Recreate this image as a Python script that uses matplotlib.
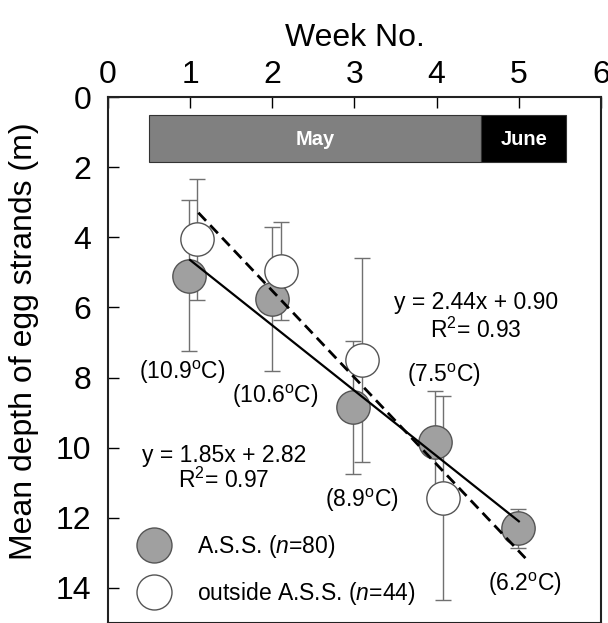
import matplotlib
matplotlib.use('Agg')
import matplotlib.pyplot as plt
from matplotlib.patches import Rectangle

plt.rcParams['font.family'] = ['Liberation Sans', 'DejaVu Sans']
plt.rcParams['mathtext.fontset'] = 'custom'
plt.rcParams['mathtext.rm'] = 'Liberation Sans'
plt.rcParams['mathtext.it'] = 'Liberation Sans:italic'

# A.S.S. (filled circles)
ass_week = [0.99, 1.99, 2.98, 3.98, 4.99]
ass_depth = [5.1, 5.75, 8.85, 9.85, 12.3]
ass_err = [2.15, 2.05, 1.9, 1.47, 0.55]

# outside A.S.S. (open circles)
out_week = [1.08, 2.1, 3.09, 4.08]
out_depth = [4.06, 4.97, 7.5, 11.43]
out_err = [1.72, 1.4, 2.92, 2.9]

# regression lines (end points)
ass_fit_x = [1.0, 5.0]
ass_fit_y = [4.65, 12.1]
out_fit_x = [1.1, 5.08]
out_fit_y = [3.3, 13.15]

temp_labels = ['(10.9$^{\\mathrm{o}}$C)', '(10.6$^{\\mathrm{o}}$C)', '(8.9$^{\\mathrm{o}}$C)',
               '(7.5$^{\\mathrm{o}}$C)', '(6.2$^{\\mathrm{o}}$C)']
temp_x = [0.9, 2.04, 3.09, 4.09, 5.08]
temp_y = [7.86, 8.54, 11.49, 7.94, 13.89]

months = ['May', 'June']
month_start = [0.5, 4.54]
month_end = [4.54, 5.58]
month_color = ['#808080', '#000000']

fig = plt.figure(figsize=(6.08, 6.23), dpi=100)
ax = fig.add_axes([0.1776, 0.0, 0.8109, 0.8443])

ax.errorbar(ass_week, ass_depth, yerr=ass_err, fmt='none', ecolor='#707070',
            elinewidth=1.0, capsize=6, capthick=1.0, zorder=2)
ax.errorbar(out_week, out_depth, yerr=out_err, fmt='none', ecolor='#707070',
            elinewidth=1.0, capsize=6, capthick=1.0, zorder=2)
h1, = ax.plot(ass_week, ass_depth, 'o', ms=24, mfc='#a0a0a0', mec='#555555',
              mew=1.0, ls='none', zorder=3)
h2, = ax.plot(out_week, out_depth, 'o', ms=24, mfc='white', mec='#555555',
              mew=1.0, ls='none', zorder=3)

ax.plot(ass_fit_x, ass_fit_y, color='black', lw=1.6, zorder=4)
ax.plot(out_fit_x, out_fit_y, color='black', lw=2.0, ls=(0, (4.0, 2.2)), zorder=4)

for s, e, c, m in zip(month_start, month_end, month_color, months):
    ax.add_patch(Rectangle((s, 0.5), e - s, 1.35, facecolor=c, edgecolor='#333333',
                           lw=0.8, zorder=1))
    ax.text((s + e) / 2, 1.2, m, color='white', fontsize=14.5, fontweight='bold',
            ha='center', va='center', zorder=2)

for t, x, y in zip(temp_labels, temp_x, temp_y):
    ax.text(x, y, t, fontsize=16.5, ha='center', va='center')

ax.text(1.41, 10.23, 'y = 1.85x + 2.82', fontsize=16.5, ha='center', va='center')
ax.text(1.41, 10.94, 'R$^2$= 0.97', fontsize=16.5, ha='center', va='center')
ax.text(4.48, 5.86, 'y = 2.44x + 0.90', fontsize=16.5, ha='center', va='center')
ax.text(4.48, 6.66, 'R$^2$= 0.93', fontsize=16.5, ha='center', va='center')

ax.legend([h1, h2], ['A.S.S. ($\\it{n}$=80)', 'outside A.S.S. ($\\it{n}$=44)'],
          loc='lower left', bbox_to_anchor=(0.07, 0.03), frameon=False,
          fontsize=16.5, handlelength=1.0, handletextpad=1.37, labelspacing=0.87,
          borderpad=0, borderaxespad=0, markerscale=1.05)

ax.set_xlim(0, 6)
ax.set_ylim(15, 0)
ax.set_xticks(range(0, 7))
ax.set_yticks(range(0, 15, 2))
ax.xaxis.tick_top()
ax.xaxis.set_label_position('top')
ax.tick_params(axis='x', direction='in', length=8, width=1, labelsize=23, pad=5,
               top=True, bottom=False)
ax.tick_params(axis='y', direction='in', length=8, width=1, labelsize=23, pad=12,
               left=True, right=False)
ax.set_xlabel('Week No.', fontsize=23, labelpad=10)
ax.set_ylabel('Mean depth of egg strands (m)', fontsize=23)
ax.yaxis.set_label_coords(-0.140, 0.535)
for sp in ax.spines.values():
    sp.set_linewidth(1.5)
    sp.set_color('#222222')

fig.savefig('out.png', dpi=100)
